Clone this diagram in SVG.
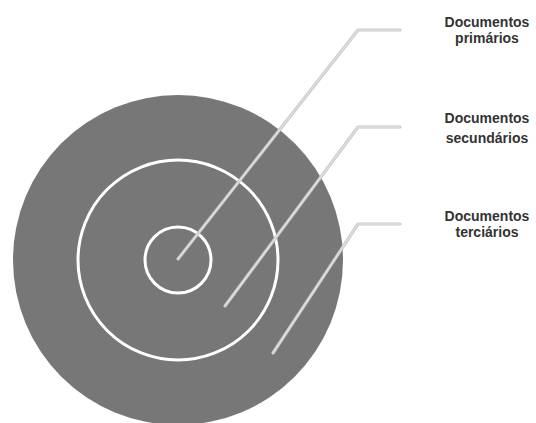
<svg xmlns="http://www.w3.org/2000/svg" width="536" height="423" viewBox="0 0 536 423">
<style>
.ring{fill:none;stroke:#ffffff;stroke-width:3}
.lead{fill:none;stroke:#c8c8c8;stroke-width:3.2;stroke-linecap:round;stroke-linejoin:round}
.leadc{fill:none;stroke:#dedede;stroke-width:1.4;stroke-linecap:round;stroke-linejoin:round}
.lbl{font-family:"Liberation Sans",Arial,sans-serif;font-weight:bold;font-size:14px;fill:#333333;text-anchor:middle}
</style>
<rect width="536" height="423" fill="#ffffff"/>
<g id="terciarios">
<circle cx="178" cy="260" r="165" fill="#777777"/>
<text class="lbl" x="487" y="221">Documentos</text>
<text class="lbl" x="487" y="237">terciários</text>
</g>
<g id="secundarios">
<circle class="ring" cx="178" cy="260" r="100"/>
<text class="lbl" x="487" y="123">Documentos</text>
<text class="lbl" x="487" y="143">secundários</text>
</g>
<g id="primarios">
<circle class="ring" cx="178" cy="260" r="33"/>
<text class="lbl" x="487" y="27">Documentos</text>
<text class="lbl" x="487" y="43">primários</text>
</g>
<g id="connectors">
<polyline class="lead" points="178,259 358,30 400,30"/>
<polyline class="leadc" points="178,259 358,30 400,30"/>
<polyline class="lead" points="225,306 358,127 400,127"/>
<polyline class="leadc" points="225,306 358,127 400,127"/>
<polyline class="lead" points="273,353 358,224 400,224"/>
<polyline class="leadc" points="273,353 358,224 400,224"/>
</g>
</svg>
